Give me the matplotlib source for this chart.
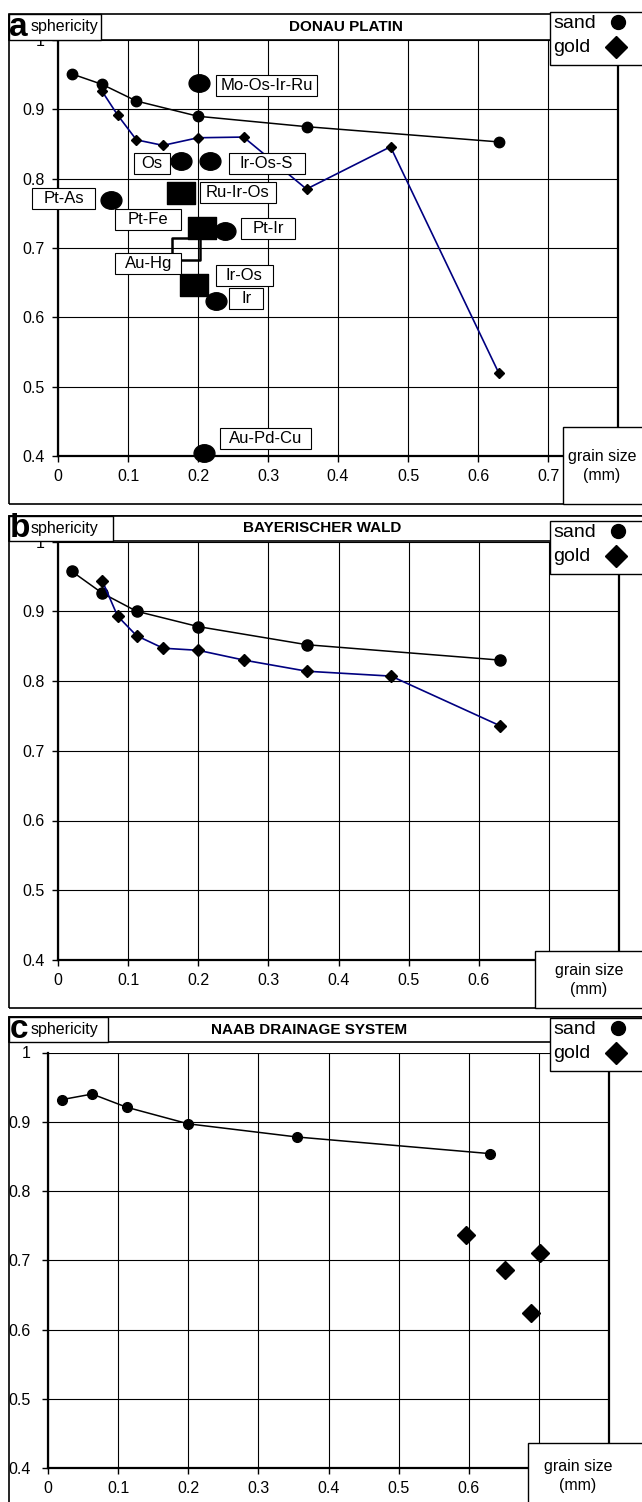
import matplotlib
matplotlib.use("Agg")
import matplotlib.pyplot as plt
from matplotlib.patches import Rectangle
from matplotlib.lines import Line2D
from matplotlib.path import Path
from matplotlib.transforms import Affine2D

plt.rcParams['font.family'] = ['Liberation Sans', 'DejaVu Sans']

# grain size classes (mm)
sand_x = [0.02, 0.063, 0.112, 0.2, 0.355, 0.63]
gold_x = [0.063, 0.085, 0.112, 0.15, 0.2, 0.265, 0.355, 0.475, 0.63]

# a: Donau Platin
a_sand_y = [0.951, 0.936, 0.912, 0.890, 0.875, 0.853]
a_gold_y = [0.926, 0.892, 0.856, 0.848, 0.859, 0.860, 0.785, 0.846, 0.519]

# a: PGM grains
pgm_names = ["Mo-Os-Ir-Ru", "Os", "Ir-Os-S", "Ru-Ir-Os", "Pt-As", "Pt-Fe",
             "Pt-Ir", "Au-Hg", "Ir-Os", "Ir", "Au-Pd-Cu"]
pgm_x = [0.201, 0.176, 0.217, 0.175, 0.075, 0.206, 0.239, 0.183, 0.194, 0.225, 0.209]
pgm_y = [0.938, 0.825, 0.825, 0.779, 0.769, 0.729, 0.725, 0.699, 0.646, 0.623, 0.405]
pgm_kind = ["ellipse", "ellipse", "ellipse", "square", "ellipse", "square",
            "ellipse", "open", "square", "ellipse", "ellipse"]

# b: Bayerischer Wald
b_sand_y = [0.957, 0.926, 0.900, 0.878, 0.852, 0.830]
b_gold_y = [0.944, 0.893, 0.865, 0.847, 0.844, 0.830, 0.814, 0.807, 0.736]

# c: Naab drainage system
c_sand_y = [0.932, 0.940, 0.921, 0.897, 0.878, 0.854]
c_gold_x = [0.596, 0.651, 0.689, 0.701]
c_gold_y = [0.736, 0.686, 0.624, 0.711]

xticks = [0, 0.1, 0.2, 0.3, 0.4, 0.5, 0.6, 0.7, 0.8]
yticks = [0.4, 0.5, 0.6, 0.7, 0.8, 0.9, 1.0]

# label boxes for the PGM grains: centre (data units) and box width (px)
label_pos = {
    "Mo-Os-Ir-Ru": (0.298, 0.934, 101), "Os": (0.134, 0.822, 36),
    "Ir-Os-S": (0.298, 0.822, 76), "Ru-Ir-Os": (0.257, 0.780, 76),
    "Pt-As": (0.008, 0.772, 63), "Pt-Fe": (0.129, 0.741, 66),
    "Pt-Ir": (0.300, 0.728, 54), "Au-Hg": (0.129, 0.677, 66),
    "Ir-Os": (0.266, 0.660, 57), "Ir": (0.269, 0.627, 34),
    "Au-Pd-Cu": (0.296, 0.425, 91),
}

W, H = 642, 1502
fig = plt.figure(figsize=(W / 100, H / 100), dpi=100)
fig.patch.set_facecolor("white")


def fx(x):
    return x / W


def fy(y):
    return 1 - y / H


def box(x0, y0, x1, y1, lw=1.0, fill=True, z=2):
    r = Rectangle((fx(x0), fy(y1)), fx(x1) - fx(x0), fy(y0) - fy(y1),
                  transform=fig.transFigure, facecolor="white" if fill else "none",
                  edgecolor="black", lw=lw, zorder=z)
    fig.patches.append(r)


def make_axes(x0, x1, ytop, ybot, ypad, hide_x):
    ax = fig.add_axes([fx(x0), fy(ybot), fx(x1) - fx(x0), fy(ytop) - fy(ybot)])
    ax.set_xlim(0, 0.8)
    ax.set_ylim(0.4, 1.0)
    ax.set_xticks(xticks)
    ax.set_yticks(yticks)
    ax.set_xticklabels(["" if t in hide_x else ("0" if t == 0 else "%.1f" % t) for t in xticks])
    ax.set_yticklabels(["1" if t == 1.0 else "%.1f" % t for t in yticks])
    ax.grid(True, color="black", lw=0.8)
    ax.set_axisbelow(True)
    ax.spines["top"].set_visible(False)
    for s in ["left", "bottom", "right"]:
        ax.spines[s].set_linewidth(1.6)
    ax.tick_params(axis="x", length=4.5, width=1, pad=5, labelsize=11.5)
    ax.tick_params(axis="y", length=4.5, width=1, pad=ypad, labelsize=11.5)
    ax.patch.set_alpha(0)
    return ax


def panel_frame(top, bottom, letter, sph_right, title, title_x, legend_top, gs_box, gs_text):
    # outer frame
    box(9, top, 646, bottom, lw=1.2, fill=False, z=1)
    # header row
    box(9, top, 646, top + 25, lw=1.2, z=2)
    box(9, top, sph_right, top + 25, lw=1.0, z=2)
    fig.text(fx(9.5), fy(top + 21.5), letter, fontsize=24, fontweight="bold",
             va="baseline", ha="left", zorder=4)
    fig.text(fx(31), fy(top + 12.5), "sphericity", fontsize=11.5, va="center",
             ha="left", zorder=4)
    fig.text(fx(title_x), fy(top + 12.5), title, fontsize=11, fontweight="bold",
             va="center", ha="center", zorder=4)
    # legend
    box(550, legend_top, 646, legend_top + 53, lw=1.0, z=3)
    fig.text(fx(553), fy(legend_top + 12), "sand", fontsize=14, va="center", ha="left", zorder=4)
    fig.text(fx(553), fy(legend_top + 36), "gold", fontsize=14, va="center", ha="left", zorder=4)
    fig.lines.append(Line2D([fx(618)], [fy(legend_top + 10)], transform=fig.transFigure,
                            marker="o", ms=10, color="black", ls="none", zorder=4))
    fig.lines.append(Line2D([fx(616)], [fy(legend_top + 35)], transform=fig.transFigure,
                            marker="D", ms=11, color="black", ls="none", zorder=4))
    # grain size box
    box(gs_box[0], gs_box[1], 646, gs_box[2], lw=1.0, z=3)
    fig.text(fx(gs_text[0]), fy(gs_text[1]), "grain size\n(mm)", fontsize=11.5,
             ha="center", va="center", linespacing=1.35, zorder=4)


ellipse_path = Path.unit_circle().transformed(Affine2D().scale(1.0, 0.84))
rect_path = Path([(-1, -0.83), (1, -0.83), (1, 0.83), (-1, 0.83), (-1, -0.83)],
                 [Path.MOVETO, Path.LINETO, Path.LINETO, Path.LINETO, Path.CLOSEPOLY])

# ---------------- a ----------------
ax = make_axes(58, 618, 40, 456, 5, [0.8])
ax.plot(sand_x, a_sand_y, color="black", lw=1.1, marker="o", ms=7.5, zorder=3)
ax.plot(gold_x, a_gold_y, color="#000080", lw=1.2, marker="D", ms=5.5, mfc="black",
        mec="black", zorder=3)
for name, x, y, kind in zip(pgm_names, pgm_x, pgm_y, pgm_kind):
    if kind == "ellipse":
        ax.plot(x, y, marker=ellipse_path, ms=15, color="black", ls="none", zorder=4,
                clip_on=False)
    elif kind == "square":
        ax.plot(x, y, marker=rect_path, ms=19.5, color="black", ls="none", zorder=4,
                clip_on=False)
    else:
        ax.plot(x, y, marker=rect_path, ms=19.5, mfc="none", mec="black", mew=1.8,
                ls="none", zorder=4, clip_on=False)
px_x = 560 / 0.8   # pixels per data unit in x
px_y = 416 / 0.6   # pixels per data unit in y
for name in pgm_names:
    lx, ly, wpx = label_pos[name]
    w, h = wpx / px_x, 21 / px_y
    ax.add_patch(Rectangle((lx - w / 2, ly - h / 2), w, h, facecolor="white",
                           edgecolor="black", lw=0.8, zorder=5, clip_on=False))
    ax.text(lx, ly, name, fontsize=12, ha="center", va="center", zorder=6, clip_on=False)
panel_frame(14.5, 504, "a", 101, "DONAU PLATIN", 346, 12, (563, 427, 504), (602, 466))

# ---------------- b ----------------
ax = make_axes(58, 619, 541.5, 960, 5, [0.7, 0.8])
ax.plot(sand_x, b_sand_y, color="black", lw=1.1, marker="o", ms=8, zorder=3)
ax.plot(gold_x, b_gold_y, color="#000080", lw=1.2, marker="D", ms=6, mfc="black",
        mec="black", zorder=3)
panel_frame(516, 1008, "b", 113, "BAYERISCHER WALD", 322, 521, (535, 951, 1008), (589, 980))

# ---------------- c ----------------
ax = make_axes(48, 609, 1052.5, 1468, 8, [0.7, 0.8])
ax.plot(sand_x, c_sand_y, color="black", lw=1.1, marker="o", ms=7, zorder=3)
ax.plot(c_gold_x, c_gold_y, color="black", ls="none", marker="D", ms=9, zorder=3)
panel_frame(1017, 1506, "c", 108, "NAAB DRAINAGE SYSTEM", 309, 1018, (528, 1443, 1506), (578, 1476))

fig.savefig("out.png", dpi=100)
